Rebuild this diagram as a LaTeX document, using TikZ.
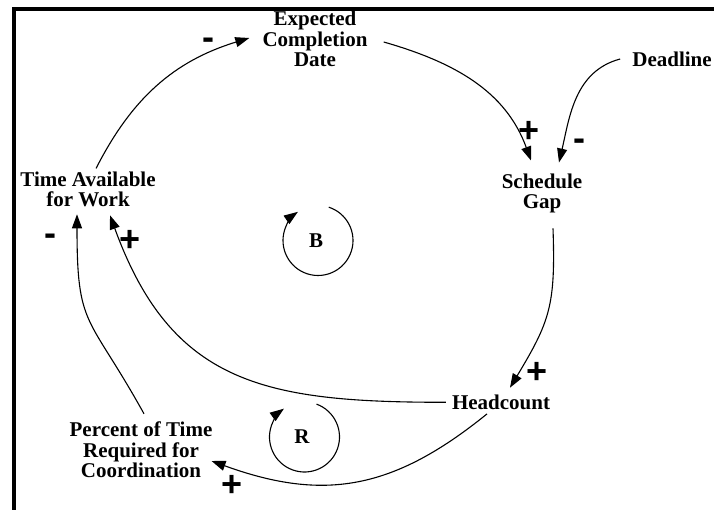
\documentclass[tikz,border=0pt]{standalone}
\usepackage{fontspec}
\setmainfont{Liberation Serif}
\newfontfamily\signfont{Liberation Sans}
\usetikzlibrary{arrows.meta}

\tikzset{
  varnode/.style={font=\fontsize{21}{20.5}\selectfont\bfseries, align=center, inner sep=3pt},
  link/.style={-{Triangle[length=14pt,width=10pt]}, line width=1.1pt},
  sign/.style={font=\signfont\fontsize{36}{36}\selectfont\bfseries, inner sep=0pt},
  loopname/.style={font=\fontsize{21}{21}\selectfont\bfseries, inner sep=0pt}
}

\begin{document}
\begin{tikzpicture}[x=1pt, y=1pt]
  \useasboundingbox (0,0) rectangle (714,510);
  % frame
  \draw[line width=3.5pt] (14,0) -- (14,501) -- (714,501);

  % variables
  \node[varnode] (exp) at (315, 471) {Expected\\Completion\\Date};
  \node[varnode] (time) at (88, 320.6) {Time Available\\for Work};
  \node[varnode] (dead) at (672, 451) {Deadline};
  \node[varnode] (gap) at (542, 316.5) {Schedule\\Gap};
  \node[varnode] (head) at (501, 107.7) {Headcount};
  \node[varnode] (pct) at (141, 60) {Percent of Time\\Required for\\Coordination};

  % links
  \draw[link] ([xshift=8pt]time.north) to[out=63, in=197] ([xshift=-10pt, yshift=1pt]exp.west);
  \draw[link] ([xshift=13pt, yshift=-3pt]exp.east) to[out=-16, in=110] ([xshift=-11pt, yshift=10pt]gap.north);
  \draw[link] ([xshift=-9pt]dead.west) to[out=195, in=77] ([xshift=17pt, yshift=8pt]gap.north);
  \draw[link] ([xshift=11pt, yshift=-12pt]gap.south) to[out=-88, in=59, looseness=1.2] ([xshift=9pt, yshift=4pt]head.north);
  \draw[link] ([xshift=-3pt]head.west) to[out=180, in=-70, looseness=1.2] ([xshift=22pt, yshift=-5pt]time.south);
  \draw[link] ([xshift=-14pt, yshift=-1pt]head.south) to[out=-141, in=-20, looseness=1.1] ([xshift=-4pt, yshift=-11pt]pct.east);
  \draw[link] ([xshift=3pt, yshift=5pt]pct.north) to[out=119, in=-90, looseness=1.4] ([xshift=-11pt, yshift=-4pt]time.south);

  % polarities
  \node[sign] (s1) at (208.3, 466) {-};
  \node[sign] (s2) at (529, 378.3) {+};
  \node[sign] (s3) at (579, 365.3) {-};
  \node[sign] (s4) at (536.7, 136.7) {+};
  \node[sign] (s5) at (130, 269.3) {+};
  \node[sign] (s6) at (50.7, 270.3) {-};
  \node[sign] (s7) at (232.3, 24) {+};

  % loops
  \node[loopname] (B) at (316, 269.5) {B};
  \draw[link] ([shift={(72:35)}]B.center) ++(2,0) arc[start angle=72, end angle=-235, radius=35];
  \node[loopname] (R) at (302, 73) {R};
  \draw[link] ([shift={(70:35)}]R.center) ++(2.5,0) arc[start angle=70, end angle=-234, radius=35];
\end{tikzpicture}
\end{document}
